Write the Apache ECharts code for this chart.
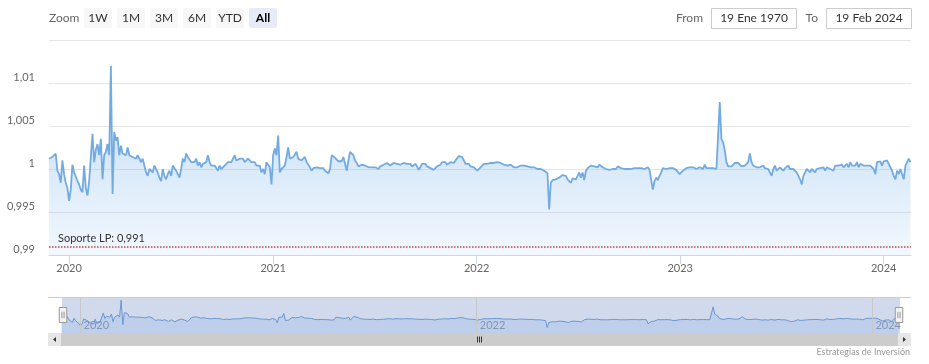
<!DOCTYPE html>
<html><head><meta charset="utf-8">
<script src="https://cdn.jsdelivr.net/npm/echarts@6/dist/echarts.min.js"></script>
<style>html,body{margin:0;padding:0;background:#fff}#chart{width:929px;height:364px}</style>
</head><body><div id="chart"></div>
<script>
// ---- data ----
const startDate = [2019, 10, 26];   // first observation (year, monthIndex, day)
const stepDays = 3;                 // spacing between observations
const pricesPart1 = [
1.0012,1.0014,1.0014,1.0016,1.0018,0.9998,0.9994,0.9984,1.0010,0.9994,
0.9984,0.9978,0.9963,0.9976,1.0005,0.9996,0.9996,0.9986,0.9982,0.9976,
0.9973,1.0004,0.9978,0.9969,0.9986,0.9988,1.0041,1.0008,1.0022,1.0029,
1.0016,1.0035,0.9988,1.0016,1.0020,1.0029,1.0016,1.0120,0.9971,1.0043,
1.0033,1.0037,1.0016,1.0027,1.0018,1.0020,1.0016,1.0025,1.0016,1.0016,
1.0014,1.0016,1.0012,1.0016,1.0018,1.0008,1.0012,1.0004,0.9996,0.9992,
1.0000,0.9998,0.9996,1.0004,1.0000,0.9996,0.9990,0.9986,1.0000,0.9992,
0.9988,0.9994,0.9998,0.9992,1.0004,1.0002,0.9998,0.9996,0.9990,1.0000,
1.0012,1.0008,1.0018,1.0014,1.0016,1.0008,1.0010,1.0008,1.0012,1.0004,
1.0008,1.0002,1.0006,1.0004,1.0008,1.0016,1.0008,1.0004,1.0006,1.0004,
1.0002,0.9998,1.0004,1.0000,1.0002,1.0004,1.0006,1.0008,1.0006,1.0008,
1.0006,1.0016,1.0010,1.0008,1.0012,1.0014,1.0012,1.0008,1.0010,1.0012,
1.0010,1.0008,1.0006,1.0008,1.0004,1.0006,1.0004,0.9996,1.0000,0.9994,
1.0008,1.0010,1.0002];
const pricesPart2 = [
0.9982,1.0016,1.0024,1.0016,1.0039,0.9996,1.0000,0.9998,1.0004,1.0014,
1.0025,1.0012,1.0014,1.0014,1.0014,1.0020,1.0012,1.0010,1.0010,1.0010,
1.0014,1.0008,1.0006,1.0002,0.9998,1.0001,1.0000,1.0002,1.0002,1.0001,
1.0003,1.0001,0.9998,0.9998,0.9995,1.0000,1.0016,1.0016,1.0013,1.0014,
1.0009,1.0011,1.0009,1.0014,1.0015,0.9998,1.0010,1.0020,1.0018,1.0016,
1.0010,1.0007,1.0003,1.0004,1.0005,1.0003,1.0004,1.0002,1.0002,1.0004,
1.0002,1.0001,1.0002,1.0002,1.0000,1.0003,1.0001,1.0005,1.0004,1.0007,
1.0006,1.0004,1.0006,1.0007,1.0005,1.0006,1.0008,1.0005,1.0006,1.0007,
1.0005,1.0006,1.0004,1.0006,1.0003,1.0004,1.0006,1.0003,0.9999,1.0002,
1.0006,1.0004,1.0006,1.0003,1.0004,1.0001,1.0002,0.9999,0.9999,1.0003,
1.0002,1.0005,1.0008,1.0006,1.0008,1.0005,1.0006,1.0008,1.0009,1.0007,
1.0010,1.0011,1.0015,1.0013,1.0014,1.0010,1.0006,1.0005,1.0006,1.0003,
1.0004,1.0002,1.0001,0.9998,1.0000,1.0002,1.0004,1.0006,1.0004,1.0006,
1.0006];
const pricesPart3 = [
1.0007,1.0006,1.0007,1.0007,1.0008,1.0009,1.0007,1.0005,1.0005,1.0005,
1.0004,1.0005,1.0005,1.0004,1.0002,1.0003,1.0002,1.0002,1.0004,1.0004,
1.0004,1.0004,1.0003,1.0002,1.0002,1.0001,1.0002,1.0000,1.0000,1.0000,
1.0000,0.9999,0.9998,0.9997,0.9995,0.9953,0.9984,0.9987,0.9988,0.9988,
0.9987,0.9990,0.9992,0.9993,0.9991,0.9992,0.9988,0.9986,0.9984,0.9989,
0.9991,0.9988,0.9992,0.9996,0.9990,0.9996,0.9987,0.9998,1.0001,1.0002,
1.0004,1.0005,1.0003,1.0004,1.0002,1.0005,1.0004,1.0002,1.0000,1.0000,
1.0000,0.9999,1.0000,1.0000,1.0001,1.0000,1.0003,1.0002,1.0001,1.0002,
1.0000,1.0001,1.0000,1.0001,1.0000,0.9999,1.0001,1.0000,1.0001,1.0000,
1.0001,1.0002,1.0000,1.0001,1.0002,0.9999,1.0000,0.9976,0.9986,0.9990,
0.9987,0.9992,0.9996,1.0001,1.0000,1.0000,1.0002,1.0001,1.0000,1.0001,
1.0000,0.9999,0.9998,0.9994,0.9995,0.9998,1.0000,1.0001,1.0002,1.0002,
1.0001,1.0002,1.0001,1.0000,1.0001,1.0002,1.0001,1.0000,1.0005,1.0001,
1.0000,1.0001];
const pricesPart4 = [
1.0001,1.0001,1.0000,1.0000,0.9999,1.0078,1.0035,1.0031,1.0022,1.0008,
1.0003,1.0002,1.0003,1.0005,1.0007,1.0009,1.0007,1.0005,1.0003,1.0003,
1.0004,1.0005,1.0008,1.0018,1.0008,1.0004,1.0005,1.0002,1.0003,1.0002,
1.0001,1.0004,1.0001,1.0002,1.0000,0.9998,0.9992,1.0000,1.0004,0.9998,
1.0000,1.0002,1.0000,0.9998,1.0001,1.0002,1.0004,1.0000,0.9998,1.0000,
0.9998,0.9996,0.9996,0.9988,0.9982,0.9992,0.9990,1.0000,0.9998,0.9996,
1.0000,0.9998,0.9996,1.0000,0.9998,1.0001,1.0000,1.0002,0.9998,1.0002,
1.0004,1.0000,1.0002,0.9998,1.0004,1.0006,1.0004,1.0002,1.0005,1.0002,
1.0004,1.0006,1.0002,1.0008,1.0004,1.0006,1.0004,1.0008,1.0002,1.0006,
1.0004,1.0004,1.0006,1.0004,1.0002,1.0004,1.0006,1.0000,0.9994,1.0008,
1.0006,1.0009,1.0004,1.0009,1.0008,1.0010,1.0006,1.0004,0.9998,0.9992,
0.9988,0.9998,0.9994,1.0000,1.0002,0.9988,1.0004,1.0006,1.0012,1.0008];

const yTickValues = [0.99, 0.995, 1, 1.005, 1.01];
const xTickYears = ['2020', '2021', '2022', '2023', '2024'];
const navTickYears = ['2020', '2022', '2024'];
const supportLevel = 0.991;
const supportLabel = 'Soporte LP: 0,991';
const zoomButtons = ['1W', '1M', '3M', '6M', 'YTD', 'All'];
const selectedButton = 'All';
const fromDate = '19 Ene 1970';
const toDate = '19 Feb 2024';
const creditText = 'Estrategias de Inversión';
const axisStart = '2019-11-26';
const axisEnd = '2024-02-19';

// ---- build ----
const DAY = 86400000;
const prices = pricesPart1.concat(pricesPart2, pricesPart3, pricesPart4);
const t0 = new Date(startDate[0], startDate[1], startDate[2]).getTime();
const seriesData = prices.map((v, i) => [t0 + i * stepDays * DAY, v]);
const FONT = 'Lato';

function yearOnly(list) {
  return function (v) {
    const d = new Date(v);
    const y = String(d.getFullYear());
    return (d.getMonth() === 0 && d.getDate() === 1 && list.includes(y)) ? y : '';
  };
}

const graphics = [];
graphics.push({type: 'text', x: 49, y: 18, style: {text: 'Zoom', fill: '#666', font: '12px ' + FONT, align: 'left', verticalAlign: 'middle'}});
zoomButtons.forEach((b, i) => {
  const sel = b === selectedButton;
  const bx = 84 + i * 33;
  graphics.push({type: 'rect', x: bx, y: 8, shape: {x: 0, y: 0, width: 28, height: 20, r: 2}, style: {fill: sel ? '#e6ebf5' : '#f7f7f7'}});
  graphics.push({type: 'text', x: bx + 14, y: 18, style: {text: b, fill: sel ? '#000' : '#333', font: (sel ? 'bold ' : '') + '12px ' + FONT, align: 'center', verticalAlign: 'middle'}});
});
graphics.push({type: 'text', x: 703, y: 18, style: {text: 'From', fill: '#666', font: '12px ' + FONT, align: 'right', verticalAlign: 'middle'}});
graphics.push({type: 'rect', x: 711.5, y: 8.5, shape: {x: 0, y: 0, width: 85, height: 20}, style: {fill: '#fff', stroke: '#cccccc', lineWidth: 1}});
graphics.push({type: 'text', x: 754, y: 18.5, style: {text: fromDate, fill: '#333', font: '12px ' + FONT, align: 'center', verticalAlign: 'middle'}});
graphics.push({type: 'text', x: 818, y: 18, style: {text: 'To', fill: '#666', font: '12px ' + FONT, align: 'right', verticalAlign: 'middle'}});
graphics.push({type: 'rect', x: 826.5, y: 8.5, shape: {x: 0, y: 0, width: 85, height: 20}, style: {fill: '#fff', stroke: '#cccccc', lineWidth: 1}});
graphics.push({type: 'text', x: 869, y: 18.5, style: {text: toDate, fill: '#333', font: '12px ' + FONT, align: 'center', verticalAlign: 'middle'}});
// navigator outline
graphics.push({type: 'line', shape: {x1: 48, y1: 297.5, x2: 911, y2: 297.5}, style: {stroke: '#cccccc', lineWidth: 1}, z: 10});
// scrollbar
graphics.push({type: 'rect', x: 61, y: 333, shape: {x: 0, y: 0, width: 837, height: 13}, style: {fill: '#cccccc'}});
graphics.push({type: 'rect', x: 48, y: 333, shape: {x: 0, y: 0, width: 13, height: 13}, style: {fill: '#e6e6e6'}});
graphics.push({type: 'rect', x: 898, y: 333, shape: {x: 0, y: 0, width: 13, height: 13}, style: {fill: '#e6e6e6'}});
graphics.push({type: 'polygon', shape: {points: [[53, 339.5], [56, 337], [56, 342]]}, style: {fill: '#333'}});
graphics.push({type: 'polygon', shape: {points: [[906, 339.5], [903, 337], [903, 342]]}, style: {fill: '#333'}});
[-2, 0, 2].forEach(dx => graphics.push({type: 'line', shape: {x1: 479.5 + dx, y1: 336.5, x2: 479.5 + dx, y2: 342.5}, style: {stroke: '#333', lineWidth: 1}}));
graphics.push({type: 'text', x: 910, y: 352, style: {text: creditText, fill: '#999', font: '9px ' + FONT, align: 'right', verticalAlign: 'middle'}});

const chart = echarts.init(document.getElementById('chart'), null, {renderer: 'canvas'});
chart.setOption({
  animation: false,
  backgroundColor: '#ffffff',
  textStyle: {fontFamily: FONT},
  grid: [
    {left: 49, right: 18, top: 40, height: 215, containLabel: false},
    {left: 61, right: 30, top: 297, height: 36, containLabel: false}
  ],
  xAxis: [
    {
      type: 'time', gridIndex: 0, min: axisStart, max: axisEnd,
      minInterval: 365 * DAY, maxInterval: 365 * DAY,
      axisLine: {show: true, lineStyle: {color: '#ccd6eb', width: 1}},
      axisTick: {show: true, length: 9, lineStyle: {color: '#ccd6eb'}},
      axisLabel: {color: '#666', fontSize: 11, fontFamily: FONT, margin: 8, showMinLabel: false, showMaxLabel: false, formatter: yearOnly(xTickYears)},
      splitLine: {show: false}
    },
    {
      type: 'time', gridIndex: 1, min: axisStart, max: axisEnd,
      minInterval: 365 * DAY, maxInterval: 365 * DAY,
      axisLine: {show: false}, axisTick: {show: false},
      splitLine: {show: false},
      axisLabel: {inside: true, color: '#999', fontSize: 11, fontFamily: FONT, margin: 2, align: 'left', padding: [0, 0, 0, 3], showMinLabel: false, showMaxLabel: false, formatter: yearOnly(navTickYears)}
    }
  ],
  yAxis: [
    {
      type: 'value', gridIndex: 0, min: 0.99, max: 1.015, interval: 0.005,
      axisLine: {show: false}, axisTick: {show: false},
      splitLine: {show: true, lineStyle: {color: '#e6e6e6'}},
      axisLabel: {
        color: '#666', fontSize: 11, fontFamily: FONT, margin: 14, verticalAlign: 'bottom',
        formatter: function (v) {
          const r = +v.toFixed(4);
          if (!yTickValues.some(t => Math.abs(t - r) < 1e-9)) return '';
          return String(r).replace('.', ',');
        }
      }
    },
    {type: 'value', gridIndex: 1, min: 0.992, max: 1.0138, show: false, splitLine: {show: false}}
  ],
  dataZoom: [{
    type: 'slider', xAxisIndex: 0, filterMode: 'none', start: 0, end: 100,
    left: 61, right: 30, top: 297, height: 36,
    showDataShadow: false, showDetail: false, brushSelect: false,
    backgroundColor: 'transparent', borderColor: 'transparent',
    fillerColor: 'rgba(102,133,194,0.3)',
    handleIcon: 'path://M0,0 L7,0 L7,14 L0,14 Z M2.5,4 L2.5,10 M4.5,4 L4.5,10',
    handleSize: 15,
    handleStyle: {color: '#f2f2f2', borderColor: '#999999', borderWidth: 1},
    moveHandleSize: 0,
    moveHandleStyle: {opacity: 0},
    emphasis: {handleStyle: {color: '#f2f2f2', borderColor: '#999999'}}
  }],
  series: [
    {
      type: 'line', xAxisIndex: 0, yAxisIndex: 0, data: seriesData,
      showSymbol: false, symbol: 'none', silent: true,
      lineStyle: {color: '#72aae2', width: 1.8},
      itemStyle: {color: '#72aae2'},
      areaStyle: {
        origin: 'start',
        color: new echarts.graphic.LinearGradient(0, 0, 0, 1, [
          {offset: 0, color: 'rgba(124,181,236,0.7)'},
          {offset: 1, color: 'rgba(124,181,236,0.15)'}
        ])
      },
      markLine: {
        silent: true, symbol: 'none', animation: false, precision: 4,
        lineStyle: {color: '#b5473f', type: 'dotted', width: 1.5},
        label: {show: true, position: 'insideStartTop', formatter: supportLabel, color: '#333', fontSize: 11, fontFamily: FONT, distance: [9, 2]},
        data: [{yAxis: supportLevel}]
      }
    },
    {
      type: 'line', xAxisIndex: 1, yAxisIndex: 1, data: seriesData,
      showSymbol: false, symbol: 'none', silent: true,
      lineStyle: {color: '#6f9fd8', width: 1},
      areaStyle: {origin: 'start', color: 'rgba(124,181,236,0.3)'},
      markLine: {
        silent: true, symbol: 'none', animation: false,
        lineStyle: {color: '#c8c8c8', type: 'solid', width: 1},
        label: {show: false},
        data: navTickYears.map(y => ({xAxis: y + '-01-01'}))
      }
    }
  ],
  graphic: graphics
});
</script>
</body></html>
